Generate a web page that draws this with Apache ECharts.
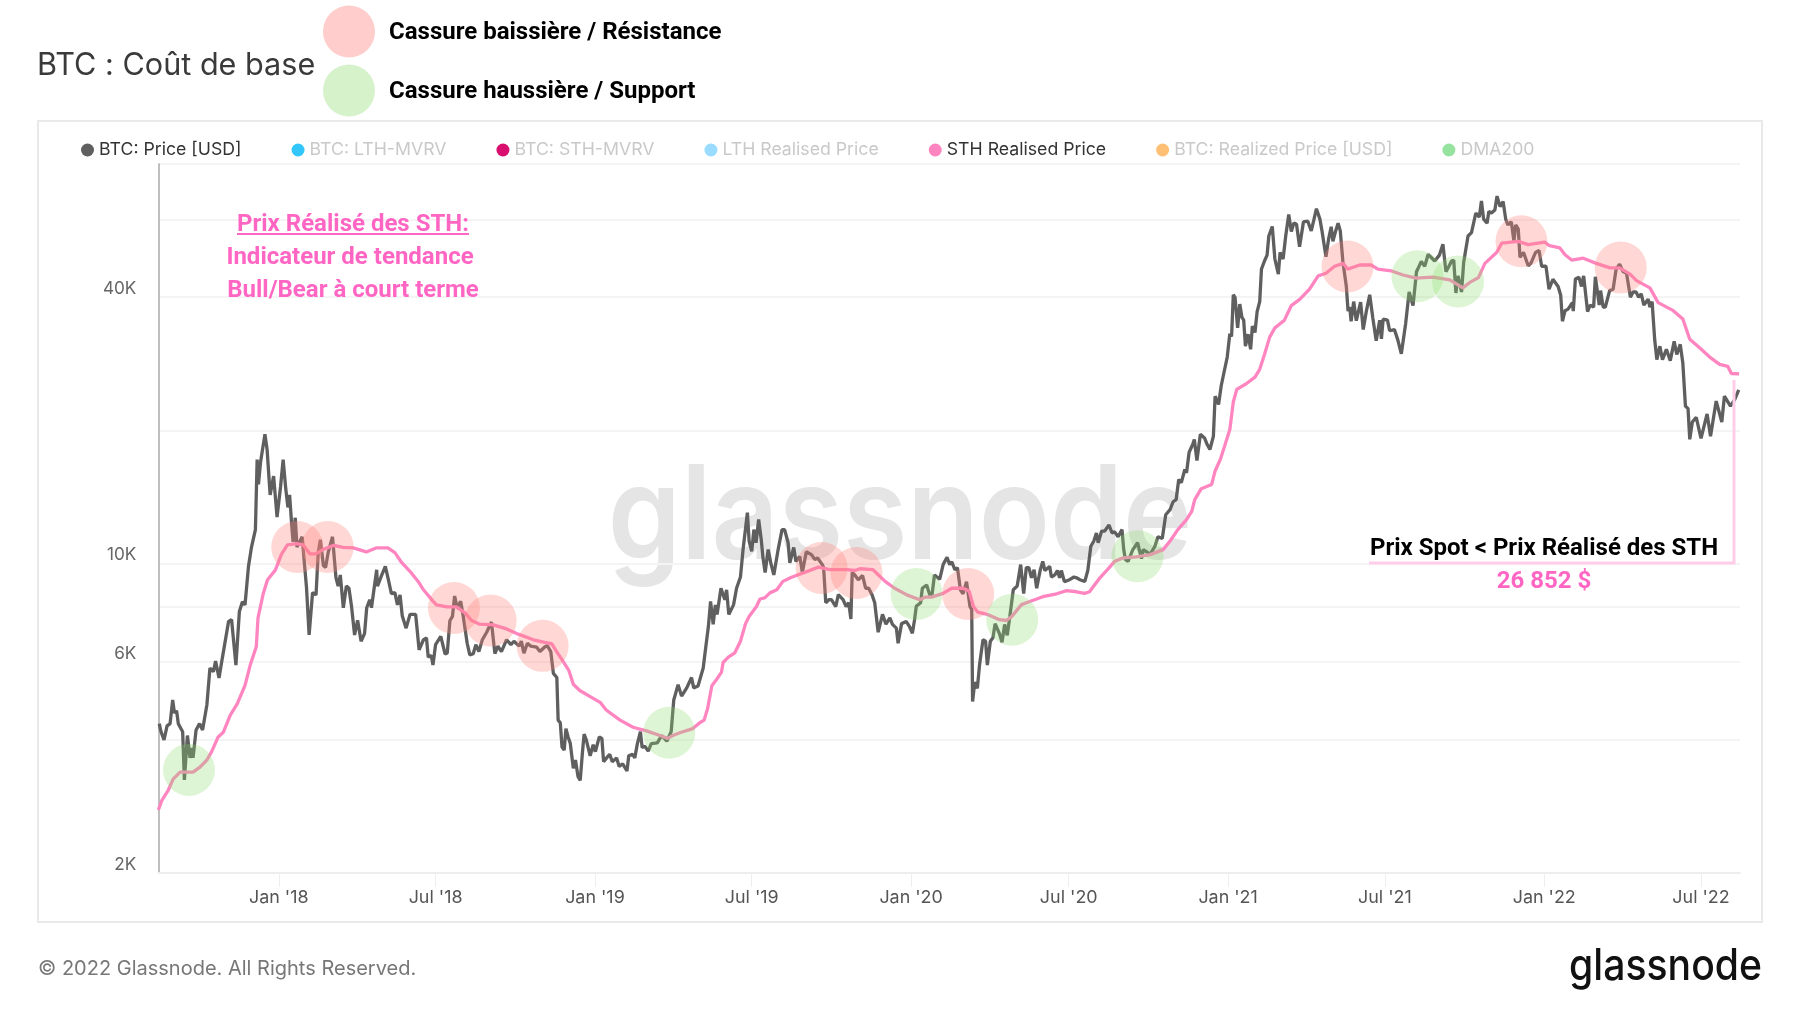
<!DOCTYPE html>
<html>
<head>
<meta charset="utf-8">
<title>BTC : Coût de base</title>
<script src="https://cdn.jsdelivr.net/npm/echarts@6/dist/echarts.min.js"></script>
<style>
  html, body { margin: 0; padding: 0; background: #fff; }
  #chart { width: 1800px; height: 1013px; }
</style>
</head>
<body>
<div id="chart"></div>
<script>
// every point is [days since 15 Aug 2017, USD]
var priceY1 = [[1,4350],[3,4170],[6.5,3995],[10,4300],[13.5,4350],[16.5,4920],[18.5,4600],[21,4650],[23,4350],[28,4170],[30,3245],[33.5,4090],[36.5,3640],[39,3830],[40,3640],[43.5,4210],[47.5,4350],[51,4210],[56,4800],[59.5,5810],[63.5,5700],[66,6020],[70,5520],[74,6150],[81,7400],[84.5,7470],[89.5,5900],[93.5,7800],[97,8200],[100,8070],[104,9860],[107.5,10900],[112,11940],[114,17190],[115.5,15100],[118,17000],[120,17000],[123,19600],[125.5,18110],[129,14300],[133,15770],[137,12740],[141,14900],[144,17190],[147,14800],[149.5,13400],[151.5,14300],[154,12150],[155.5,11200],[158,12700],[160,10900],[166,11500],[168.5,10050],[171,8830],[174,6900],[178,8600],[182,8500],[184.5,10600],[187,11330],[190.5,9900],[193,9800],[196,10600],[201,11500],[205,9300],[207.5,8900],[210,9430],[213.5,7950],[217,8900],[220,8800],[223,8000],[226.5,6900],[230,7450],[234,6680],[238,6950],[240.5,7950],[244,8290],[246,7950],[252,9690],[253,8900],[257,9330],[262,9860],[265.5,9200],[269,8550],[273,8600],[276,8070],[279,8500],[281.5,7630],[286,7150],[290.5,7680],[297,7680],[301,6390],[306,6730],[309.5,6800],[311.5,6150]];
var priceY2 = [[315,6200],[317,5900],[320,6560],[326,6850],[331,6250],[333.5,6280],[336.5,7430],[339.5,7600],[342,8450],[345,7950],[349,8220],[352,7600],[356.5,6610],[359.5,6220],[363.5,6260],[366.5,6560],[370,6330],[374,6730],[379,7000],[384.5,7380],[388.5,6260],[392,6510],[396,6330],[402,6730],[407,6560],[410.5,6680],[416.5,6510],[419,6680],[422,6280],[426,6610],[430,6510],[436.5,6480],[440.5,6330],[446,6480],[449,6530],[453,6330],[456,5650],[460,5530],[461.5,4430],[464,4370],[466,3850],[468.5,3790],[470.5,4240],[473,4060],[475.5,3930],[479,3450],[481.5,3600],[484.5,3300],[487,3240],[489.5,3730],[491.5,4120],[494,4000],[498.5,3680],[502,3900],[504.5,3760],[509,4060],[512,4030],[514,3570],[517.5,3640],[521,3710],[524,3570],[529,3640],[532,3480],[536,3530],[541,3400],[543,3680],[547.5,3710],[550,3640],[553,3920],[556.5,4170],[558.5,3840],[561.5,3870],[565.5,3770],[569,3920],[576,3935],[581,4090],[587,3970],[592,4170],[595,4920],[600,5330],[604,5020],[610,5240],[615.5,5530],[618,5240],[623,5290]];
var priceY3 = [[625,5460],[629,5810],[631,6260],[635,7220],[637.5,8220],[640.5,7290],[643,8070],[645,7680],[649.5,8800],[654,8290],[656,8730],[658.5,7680],[664,8070],[667.5,8800],[672,9330],[675,10760],[680,13040],[682,11250],[685,10660],[687.5,11940],[690,11150],[693,12580],[696,11330],[698,10310],[700.5,9550],[704,10760],[707,10040],[710.5,9430],[715.5,10760],[720,11940],[723,11940],[727,11150],[729,10040],[733.5,10880],[736,10120],[740.5,10380],[743.5,9550],[748,10640],[754,10480],[758,10210],[761,10300],[766.5,9950],[768,9790],[770.5,8160],[774,8290],[777,8290],[782,8000],[785,8510],[790.5,8290],[794,8000],[797,8160],[799.5,7500],[801,9550],[804,9430],[808,9200],[813,9400],[816.5,8800],[820,8800],[824,8500],[827,8160],[831,7000],[836,7680],[840,7300],[844.5,7540],[847.5,7290],[852,7150],[854,6610],[858,7320],[863.5,7400],[867,7220],[870.5,6960],[873,7470],[875,8010],[880,8160],[882,8800],[887,8950],[890.5,8510],[893,8450],[896,9430],[902,9220],[906,9950],[910.5,10340],[913.5,9950],[916,10100],[919.5,9690],[922.5,9790],[926,8720],[929,8550],[933,9100],[935,9100],[937,8000],[939,7880],[940,4880],[942.5,5400],[945.5,5230],[948,5900],[952,6730],[955,6680],[957,5900],[960.5,6680]];
var priceY4 = [[963.5,6800],[966,7320],[971,6950],[974,6640],[977,7290],[980,6890],[983,7600],[987,8730],[991.5,8900],[993.5,8950],[995.5,9950],[999,8560],[1002,9790],[1005,9790],[1008,9290],[1011,9690],[1014,8800],[1018,9650],[1021,10120],[1023.5,9650],[1029,9860],[1031,9330],[1035,9430],[1038,9650],[1040.5,9290],[1042.5,9650],[1046,9110],[1052,9200],[1057,9330],[1060,9290],[1064,9200],[1069.5,9110],[1073,9650],[1076.5,10950],[1080,11250],[1083,11730],[1085,11150],[1089,11850],[1092.5,11850],[1097.5,12230],[1101,11730],[1104,11800],[1108,11500],[1112.5,11940],[1114.5,10760],[1116.5,10210],[1119.5,10120],[1125,10760],[1130.5,11150],[1135,10260],[1137,10760],[1142,10600],[1145,10500]];
var priceY5 = [[1150.5,10950],[1154,11500],[1159,11400],[1163,12900],[1168,13250],[1171.5,13800],[1175,13950],[1178,15490],[1181,15250],[1185,16320],[1187,16050],[1190,17860],[1194,18560],[1196,19080],[1199,17100],[1203,19600],[1208,19200],[1211,18560],[1214,18110],[1218,19400],[1220,23900],[1224,22900],[1227,25200],[1230,26900],[1234,29300],[1237,33100],[1239,32600],[1241,40500],[1243,40000],[1246,34100],[1248.5,38600],[1251,36000],[1253,35500],[1255,31000],[1258,33000],[1261,30500],[1263,34400],[1266,33300],[1268.5,37100],[1271.5,39100],[1273.5,46300],[1277,48300],[1280,49800],[1282,55000],[1286,57800],[1289,48800],[1293,45100],[1295,50500],[1298.5,48800],[1301.5,55000],[1305,61500],[1308,56300],[1311,58900],[1314,58500],[1317.5,52000],[1322,59200],[1327,59400],[1331,56500],[1334,59800],[1337,63400],[1341,60050],[1343.5,56300],[1348,49400],[1351,54100],[1354,57700],[1356,53500],[1359,56300],[1362,58800],[1364.5,56500],[1367.5,48200],[1371.5,42300],[1373.5,37200],[1375.5,38000],[1377,35300],[1380,39100],[1383,35400],[1388,39000],[1391,33800],[1394.5,37100],[1398.5,40500],[1402,36000],[1406,31900],[1410,35500],[1412,32200],[1414,35700],[1419,35500],[1421.5,33600],[1427,33800],[1431,32000],[1435,29800]];
var priceY6 = [[1440,34900],[1444,41100],[1448.5,38300],[1452.5,45700],[1454,46300],[1458,48200],[1462,47000],[1466,50000],[1473.5,48300],[1479,49800],[1483,52700],[1486.5,45700],[1490,47000],[1493,48300],[1495.5,48500],[1498,40900],[1500.5,44700],[1504.5,41100],[1507,48000],[1512,55000],[1516,56000],[1518,56500],[1521,62000],[1525,60700],[1527.5,66000],[1530,60050],[1534,58800],[1536,62500],[1539,62000],[1543,63000],[1545.5,67700],[1549,64100],[1552.5,65800],[1555.5,60050],[1558,58300],[1562,59200],[1565,53500],[1567,58300],[1570,57000],[1572,49200],[1576,50500],[1581.5,47100],[1584.5,47700],[1590,50500],[1594,51000],[1597,47000],[1602,47000],[1605.5,41700],[1610,43900],[1616,42300],[1619,40400],[1621,35300],[1624,37300],[1627.5,37600],[1632.5,38900],[1633.5,37200],[1636,44000],[1640,44400],[1643,42300],[1645.5,44700],[1650,37100],[1653,38400],[1657,38000],[1659,44500],[1663.5,38400],[1665,41400],[1668,38000],[1670.5,38000],[1675.5,41400],[1679.5,41700],[1683,46300],[1687,47500],[1691,45700],[1695,45300],[1699.5,40000],[1702.5,41100],[1706,41100],[1709,40000],[1712,40700],[1715,38400],[1720,39600],[1722,38000],[1724.5,39100],[1727.5,32100],[1730,28900],[1733.5,31000],[1736.5,28900],[1741,30500],[1745.5,28750],[1750,31800],[1753,29700],[1757,31300],[1760,28400],[1763,22700],[1766,22400],[1768,19100],[1771,20900],[1775.5,21400],[1781,19200],[1788,21800],[1792,19400],[1798.5,23300],[1805,20900],[1808,23900],[1815,22700],[1820,23500],[1824.5,24700]];

var sthEarly = [[0,2775],[4,2920],[11.5,3080],[17,3260],[25,3380],[40,3380],[48,3470],[56,3600],[61.5,3760],[69,4060],[75,4160],[83,4550],[91,4820],[100,5310],[106,5900],[113,6490],[115,7540],[121,8550],[126,9200],[135,9670],[142,10500],[149,11030],[160,11100],[167,11030],[175,10520],[181.5,10520],[190,10760],[202.5,11000],[213,10880],[225,10860],[240,10630],[252,10860],[265,10860],[273,10590],[281,10050],[292,9530],[301,9050],[306,8730],[317,8230],[321,8070],[333,7990],[344,7990],[354,7740],[361.5,7440],[371,7300],[386.5,7270],[402,7120],[415.5,6930],[433,6730],[446,6640],[454,6600],[460,6320],[467,6020],[474,5730],[479,5340],[486.5,5170],[499,5000],[510,4860],[517,4670],[533,4430],[548,4270],[563.5,4190],[579,4090],[588,4030],[594,4090],[602,4150],[617,4240]];
var sthMiddle = [[625,4370],[630,4430],[634,4700],[639,5300],[644,5460],[650,5680],[652,5980],[658,6150],[665.5,6290],[672,6680],[678,7330],[682,7600],[690.5,8000],[694.5,8320],[700,8370],[706,8590],[714,8730],[721,9120],[731,9320],[744.5,9530],[762,9820],[775,9690],[794.5,9690],[804,9650],[810,9740],[825,9690],[839,9120],[850,8800],[864,8500],[879,8290],[885,8400],[892.5,8400],[906,8570],[916,8800],[929,8800],[936,8670],[941,8000],[946,7770],[958,7670],[971,7470],[979,7440],[985,7590],[996.5,8080],[1006,8210],[1014,8320],[1021,8420],[1037,8550],[1048.5,8690],[1060,8640],[1069.5,8570],[1075,8640],[1087,9290],[1096.5,9730],[1104,10120],[1114,10310],[1129,10360]];
var sthLate = [[1145,10480],[1160,10760],[1168,11250],[1177,11940],[1187,12580],[1193,13120],[1196.5,13950],[1204,14770],[1216,15100],[1220,16200],[1226,17190],[1231,18440],[1237,20100],[1241,23190],[1245,24760],[1256,25500],[1266,26400],[1271.5,27490],[1277,29700],[1283,32500],[1289,34100],[1300,35500],[1308,38300],[1318,39590],[1329,41700],[1339,44700],[1348,45300],[1358,47000],[1368,47700],[1373,46300],[1387,47300],[1400,47300],[1408,46300],[1423,45900],[1437,44900],[1452,44200],[1471.5,44400],[1491,43800],[1506,42000],[1514,43200],[1524,44300],[1531.5,47700],[1545,50500],[1551,53000],[1570,53500],[1581.5,52600],[1600.5,53300],[1606,52300],[1618,51700],[1624,49900],[1632,48500],[1645,49000],[1660,47700],[1676,46600],[1687,46600],[1699,45100],[1706.5,43600],[1722,42000],[1731.5,38900],[1749,37300],[1760,35700],[1768,32140],[1779,30800],[1791,29300],[1802.5,28200],[1812,27900],[1816,26900],[1825,26852]];

var bearCircles = [[160.3,10910],[195.4,10910],[341.2,7940],[383.6,7440],[443.6,6520],[765.7,9780],[806,9530],[934.9,8540],[1372.8,46950],[1573.7,53500],[1688.3,46700]];
var bullCircles = [[35.3,3420],[589.7,4150],[875.3,8540],[985.7,7470],[1130.4,10390],[1453.6,44600],[1500.5,43400]];

var xTickDates = ['2018-01-01','2018-07-01','2019-01-01','2019-07-01','2020-01-01','2020-07-01','2021-01-01','2021-07-01','2022-01-01','2022-07-01'];
var xTickLabels = ["Jan '18","Jul '18","Jan '19","Jul '19","Jan '20","Jul '20","Jan '21","Jul '21","Jan '22","Jul '22"];
var yGridValues = [2000,4000,6000,8000,10000,20000,40000,60000,80000];
var yLabelValues = [2000,6000,10000,40000];

var legendNames = ['BTC: Price [USD]','BTC: LTH-MVRV','BTC: STH-MVRV','LTH Realised Price','STH Realised Price','BTC: Realized Price [USD]','DMA200'];
var legendColors = ['#5f5f5f','#33c6fb','#d80f6f','#99dcff','#ff85c0','#ffbf75','#96e3a0'];
var legendTextColors = ['#333333','#c9c9c9','#c9c9c9','#c9c9c9','#333333','#c9c9c9','#c9c9c9'];

var startDay = Date.UTC(2017, 7, 15);
function toPoints(rows) {
  return rows.map(function (e) {
    return [startDay + e[0] * 86400000, e[1]];
  });
}
var tickTimes = xTickDates.map(function (d) { return new Date(d + 'T00:00:00Z').getTime(); });

var price = toPoints([].concat(priceY1, priceY2, priceY3, priceY4, priceY5, priceY6));
var sth = toPoints([].concat(sthEarly, sthMiddle, sthLate));

var PINK = '#ff66c4';
var boldFont = 'bold 24px Roboto';

function label(text, x, y, color, align) {
  return {
    type: 'text', z: 20, silent: true,
    style: { text: text, x: x, y: y, fill: color, font: boldFont, align: align || 'left', verticalAlign: 'middle' }
  };
}

// one line per legend entry, the hidden ones just stay empty
var series = legendNames.map(function (name, i) {
  var data = [];
  if (i === 0) data = price;
  if (i === 4) data = sth;
  return {
    name: name,
    type: 'line',
    data: data,
    showSymbol: false,
    symbol: 'none',
    z: i === 4 ? 3 : 2,
    lineStyle: { width: 3.3, color: legendColors[i] },
    itemStyle: { color: legendColors[i] }
  };
});
series.push({
  name: 'Cassure baissière / Résistance', type: 'scatter', z: 5, symbolSize: 52,
  data: toPoints(bearCircles), itemStyle: { color: 'rgba(255,130,125,0.4)' }
});
series.push({
  name: 'Cassure haussière / Support', type: 'scatter', z: 5, symbolSize: 52,
  data: toPoints(bullCircles), itemStyle: { color: 'rgba(140,220,110,0.36)' }
});

var myChart = echarts.init(document.getElementById('chart'));
myChart.setOption({
  animation: false,
  backgroundColor: '#fff',
  textStyle: { fontFamily: 'Inter' },
  title: {
    text: 'BTC : Coût de base', left: 37, top: 50, padding: 0,
    textStyle: { fontFamily: 'Inter', fontSize: 30.6, fontWeight: 400, color: '#3a3a3a' }
  },
  legend: {
    left: 81, top: 141, padding: 0, itemGap: 50, itemWidth: 13, itemHeight: 13, selectedMode: false,
    textStyle: { fontFamily: 'Inter', fontSize: 17.7 },
    data: legendNames.map(function (name, i) {
      return { name: name, icon: 'circle', textStyle: { color: legendTextColors[i] } };
    })
  },
  grid: { left: 158.4, right: 60, top: 164, bottom: 140 },
  xAxis: {
    type: 'value',
    min: startDay,
    max: Date.UTC(2022, 7, 15),
    axisLine: { lineStyle: { color: '#eeeeee', width: 2 } },
    axisTick: { length: 14, lineStyle: { color: '#eeeeee' }, customValues: tickTimes },
    splitLine: { show: false },
    axisLabel: {
      color: '#555', fontSize: 17.9, fontFamily: 'Inter', margin: 16,
      customValues: tickTimes,
      formatter: function (v) { return xTickLabels[tickTimes.indexOf(v)] || ''; }
    }
  },
  yAxis: {
    type: 'log',
    logBase: 10,
    min: 2000,
    max: 80000,
    axisLine: { show: true, lineStyle: { color: '#aaaaaa', width: 1.5 } },
    axisTick: { show: false, customValues: yGridValues },
    splitLine: { show: true, lineStyle: { color: '#f4f4f4', width: 2 } },
    axisLabel: {
      color: '#666', fontSize: 17.2, fontFamily: 'Inter', margin: 22, verticalAlign: 'bottom',
      customValues: yLabelValues,
      formatter: function (v) { return (v / 1000) + 'K'; }
    }
  },
  series: series,
  graphic: [
    { type: 'rect', z: -1, silent: true, shape: { x: 38, y: 121, width: 1724, height: 801 }, style: { fill: 'none', stroke: '#e9e9e9', lineWidth: 2 } },
    { type: 'text', z: 0, silent: true, x: 900, y: 520, scaleX: 0.9, style: { text: 'glassnode', x: 0, y: 0, fill: '#e5e5e5', font: '600 130px Inter', align: 'center', verticalAlign: 'middle' } },

    { type: 'circle', z: 20, silent: true, shape: { cx: 349, cy: 31.5, r: 26 }, style: { fill: 'rgba(255,130,125,0.4)' } },
    { type: 'circle', z: 20, silent: true, shape: { cx: 349, cy: 90.5, r: 26 }, style: { fill: 'rgba(140,220,110,0.36)' } },
    label('Cassure baissière / Résistance', 389, 33, '#000'),
    label('Cassure haussière / Support', 389, 92, '#000'),

    label('Prix Réalisé des STH:', 353, 225, PINK, 'center'),
    label('Indicateur de tendance', 350, 258, PINK, 'center'),
    label('Bull/Bear à court terme', 353, 291, PINK, 'center'),
    { type: 'line', z: 20, silent: true, shape: { x1: 237, y1: 234, x2: 469, y2: 234 }, style: { stroke: PINK, lineWidth: 2 } },

    { type: 'polyline', z: 20, silent: true, shape: { points: [[1369, 563], [1734, 563], [1734, 380]] }, style: { fill: 'none', stroke: '#ffcdea', lineWidth: 3 } },
    label('Prix Spot < Prix Réalisé des STH', 1370, 549, '#000'),
    label('26 852 $', 1544, 582, PINK, 'center'),

    { type: 'text', z: 20, silent: true, style: { text: '© 2022 Glassnode. All Rights Reserved.', x: 38, y: 969, fill: '#777', font: '20px Inter', verticalAlign: 'middle' } },
    { type: 'text', z: 20, silent: true, x: 1762, y: 967, scaleX: 0.89, style: { text: 'glassnode', x: 0, y: 0, fill: '#111', font: '500 44px Inter', align: 'right', verticalAlign: 'middle' } }
  ]
});
</script>
</body>
</html>
